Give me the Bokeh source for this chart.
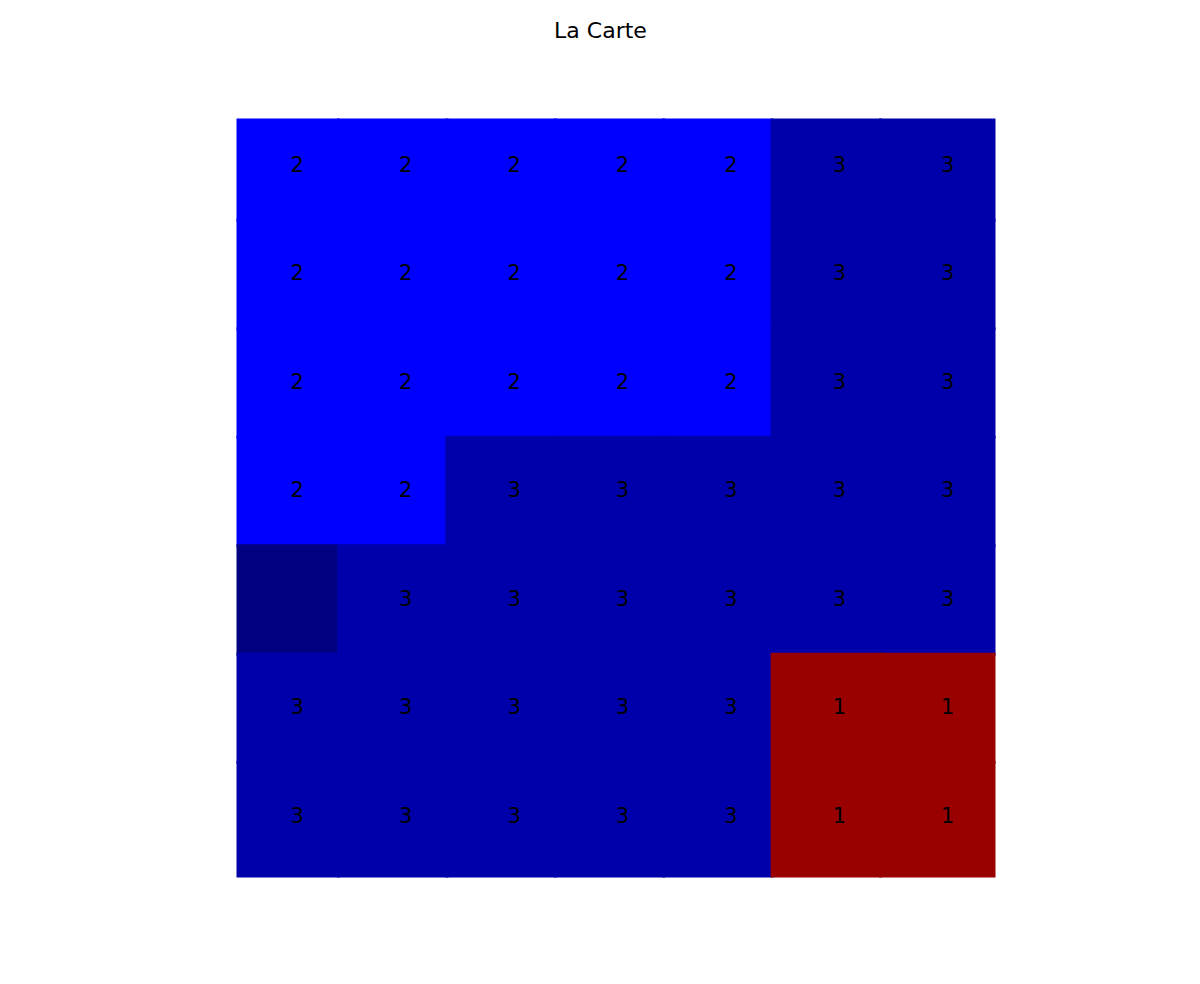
from bokeh.plotting import figure
from bokeh.models import ColumnDataSource, Range1d
from bokeh.core.properties import value
from bokeh.embed import file_html
from bokeh.resources import INLINE

# Grid values (row 0 at top); 0 = unlabelled cell
grid = [
    [2, 2, 2, 2, 2, 3, 3],
    [2, 2, 2, 2, 2, 3, 3],
    [2, 2, 2, 2, 2, 3, 3],
    [2, 2, 3, 3, 3, 3, 3],
    [0, 3, 3, 3, 3, 3, 3],
    [3, 3, 3, 3, 3, 1, 1],
    [3, 3, 3, 3, 3, 1, 1],
]
labels = {0: "", 1: "1", 2: "2", 3: "3"}
colors = {0: "#000080", 1: "#990000", 2: "#0000FF", 3: "#0000AA"}
title = "La Carte"

# layout (pixels)
W, H = 1200, 984
map_left, map_top, map_size = 236, 118, 759
title_cx, title_cy = 600, 30

n = len(grid)
s = map_size / n      # pixels per cell
shift = 0.06          # rendered cell edges sit slightly left/up of integer grid
tx, ty = 0.56, 0.42   # label offset inside each cell
lw = 1.5 / s          # inset so the seam-covering stroke stays inside the map

left, right, top, bottom, fill = [], [], [], [], []
xs, ys, txt = [], [], []
for i, row in enumerate(grid):
    for j, v in enumerate(row):
        left.append(max(j - shift, 0) + (lw if j == 0 else 0))
        right.append(n - lw if j == n - 1 else j + 1 - shift)
        top.append(max(i - shift, 0) + (lw if i == 0 else 0))
        bottom.append(n - lw if i == n - 1 else i + 1 - shift)
        fill.append(colors[v])
        xs.append(j + tx)
        ys.append(i + ty)
        txt.append(labels[v])

cells = ColumnDataSource(dict(left=left, right=right, top=top, bottom=bottom, fill=fill))
texts = ColumnDataSource(dict(x=xs, y=ys, t=txt))
ttl = ColumnDataSource(dict(x=[(title_cx - map_left) / s], y=[(title_cy - map_top) / s], t=[title]))

p = figure(width=W, height=H,
           x_range=Range1d(-map_left / s, (W - map_left) / s),
           y_range=Range1d((H - map_top) / s, -map_top / s),
           output_backend="svg", toolbar_location=None,
           x_axis_location=None, y_axis_location=None,
           min_border=0)
p.grid.visible = False
p.outline_line_color = None
p.background_fill_color = "white"
p.border_fill_color = "white"

p.quad(left="left", right="right", top="top", bottom="bottom", fill_color="fill",
       line_color="fill", line_width=3, line_join="miter", source=cells)
p.text(x="x", y="y", text="t", source=texts, text_align="center",
       text_baseline="middle", text_color="black",
       text_font=value("DejaVu Sans"), text_font_size="21px")
p.text(x="x", y="y", text="t", source=ttl, text_align="center",
       text_baseline="middle", text_color="black",
       text_font=value("DejaVu Sans"), text_font_size="22px")

open("out.html", "w").write(file_html(p, INLINE))
